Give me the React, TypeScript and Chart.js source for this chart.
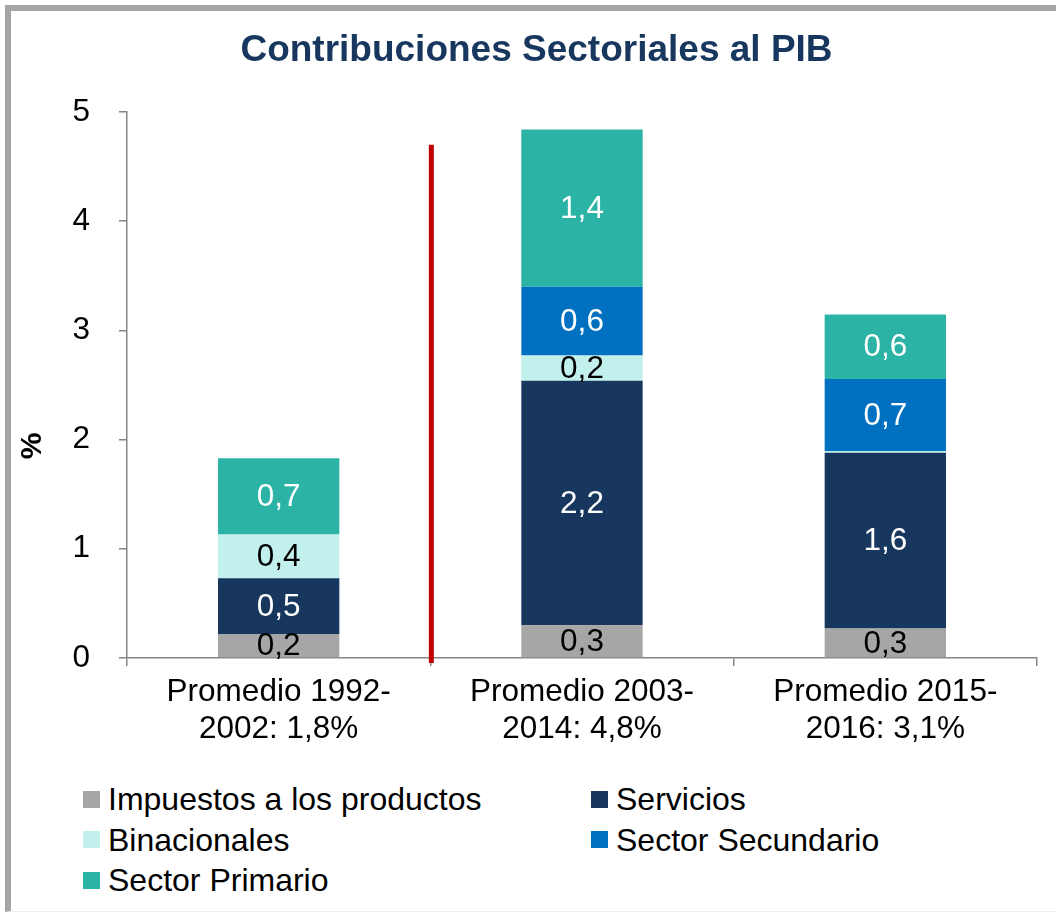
import React, { useEffect, useRef } from "react";
import { Chart, registerables } from "chart.js";

Chart.register(...registerables);

const TITLE = "Contribuciones Sectoriales al PIB";
const CATEGORIES: string[][] = [
  ["Promedio 1992-", "2002: 1,8%"],
  ["Promedio 2003-", "2014: 4,8%"],
  ["Promedio 2015-", "2016: 3,1%"],
];
const SERIES_NAMES = [
  "Impuestos a los productos",
  "Servicios",
  "Binacionales",
  "Sector Secundario",
  "Sector Primario",
];
const IMPUESTOS = [0.22, 0.3, 0.27];
const SERVICIOS = [0.51, 2.24, 1.61];
const BINACIONALES = [0.4, 0.23, 0.015];
const SECUNDARIO = [0, 0.63, 0.66];
const PRIMARIO = [0.7, 1.44, 0.59];
const SERIES_VALUES = [IMPUESTOS, SERVICIOS, BINACIONALES, SECUNDARIO, PRIMARIO];
const COLORS = ["#a6a6a6", "#17375e", "#c2f0ec", "#0070c0", "#2bb3a6"];
const LABEL_COLORS = ["#000000", "#ffffff", "#000000", "#ffffff", "#ffffff"];
const Y_TICKS = [0, 1, 2, 3, 4, 5];
const DIVIDER_TOP = 4.7;
const AXIS_TITLE = "%";

const FONT = "'Liberation Sans', Arial, sans-serif";

const fmt = (v: number) => v.toFixed(1).replace(".", ",");

const labelsPlugin = {
  id: "segLabels",
  afterDatasetsDraw(chart: any) {
    const ctx = chart.ctx;
    ctx.save();
    ctx.font = `31.5px ${FONT}`;
    ctx.textAlign = "center";
    ctx.textBaseline = "middle";
    chart.data.datasets.forEach((ds: any, di: number) => {
      const meta = chart.getDatasetMeta(di);
      meta.data.forEach((el: any, i: number) => {
        const v = ds.data[i];
        if (v < 0.1) return;
        ctx.fillStyle = LABEL_COLORS[di];
        ctx.fillText(fmt(v), el.x, (el.y + el.base) / 2 + 1);
      });
    });
    ctx.restore();
  },
};

const dividerPlugin = {
  id: "divider",
  afterDatasetsDraw(chart: any) {
    const { ctx, scales } = chart;
    const xs = scales.x;
    const ys = scales.y;
    const x = (xs.getPixelForValue(0) + xs.getPixelForValue(1)) / 2 + 1;
    ctx.save();
    ctx.strokeStyle = "#c00000";
    ctx.lineWidth = 5;
    ctx.beginPath();
    ctx.moveTo(x, ys.getPixelForValue(DIVIDER_TOP));
    ctx.lineTo(x, ys.getPixelForValue(0) + 5);
    ctx.stroke();
    ctx.restore();
  },
};

const yTitlePlugin = {
  id: "yTitle",
  afterDraw(chart: any) {
    const { ctx, chartArea } = chart;
    ctx.save();
    ctx.font = `bold 30px ${FONT}`;
    ctx.fillStyle = "#000";
    ctx.textAlign = "center";
    ctx.textBaseline = "middle";
    ctx.translate(22, (chartArea.top + chartArea.bottom) / 2 + 61);
    ctx.rotate(-Math.PI / 2);
    ctx.fillText(AXIS_TITLE, 0, 0);
    ctx.restore();
  },
};

export default function App() {
  const ref = useRef<HTMLCanvasElement | null>(null);

  useEffect(() => {
    if (!ref.current) return;
    const chart = new Chart(ref.current, {
      type: "bar",
      data: {
        labels: CATEGORIES as any,
        datasets: SERIES_NAMES.map((name, i) => ({
          label: name,
          data: SERIES_VALUES[i],
          backgroundColor: COLORS[i],
          borderWidth: 0,
          categoryPercentage: 1,
          barPercentage: 0.4,
        })),
      },
      options: {
        animation: false,
        responsive: false,
        maintainAspectRatio: false,
        layout: { padding: { left: 25, right: 19, top: 0, bottom: 0 } },
        plugins: {
          legend: { display: false },
          tooltip: { enabled: false },
          title: {
            display: true,
            text: TITLE,
            color: "#17375e",
            font: { family: FONT, size: 37, weight: "bold" },
            padding: { top: 18, bottom: 38.6 },
          },
        },
        scales: {
          x: {
            stacked: true,
            offset: true,
            grid: {
              display: true,
              drawOnChartArea: false,
              offset: true,
              tickLength: 8,
              color: "#868686",
              lineWidth: 1.5,
            },
            border: { color: "#868686", width: 1.5 },
            ticks: {
              color: "#000",
              font: { family: FONT, size: 31.5, lineHeight: 1.2 },
              padding: 7,
              maxRotation: 0,
              autoSkip: false,
            },
            afterFit(scale: any) {
              scale.height = 113;
            },
          },
          y: {
            stacked: true,
            min: 0,
            max: 5,
            afterBuildTicks(scale: any) {
              scale.ticks = Y_TICKS.map((v) => ({ value: v }));
            },
            grid: {
              display: true,
              drawOnChartArea: false,
              tickLength: 8,
              color: "#868686",
              lineWidth: 1.5,
            },
            border: { color: "#868686", width: 1.5 },
            ticks: {
              color: "#000",
              font: { family: FONT, size: 31.5 },
              padding: 29,
            },
            afterFit(scale: any) {
              scale.width = 91;
            },
          },
        },
      },
      plugins: [labelsPlugin, dividerPlugin, yTitlePlugin],
    });
    return () => chart.destroy();
  }, []);

  return (
    <div
      style={{
        position: "absolute",
        left: 0,
        top: 0,
        width: 1056,
        height: 913,
        overflow: "hidden",
        background: "#fff",
        fontFamily: FONT,
      }}
    >
      <div
        style={{
          position: "absolute",
          left: 5,
          top: 5,
          width: 1200,
          height: 900,
          borderLeft: "6px solid #a6a6a6",
          borderTop: "6px solid #a6a6a6",
          borderBottom: "1px solid #eeeeee",
        }}
      />
      <canvas
        ref={ref}
        width={1045}
        height={760}
        style={{ position: "absolute", left: 11, top: 11, width: 1045, height: 760 }}
      />
      <div
        style={{
          position: "absolute",
          left: 83,
          top: 779,
          display: "grid",
          gridTemplateColumns: "508px auto",
          gridAutoRows: "40.5px",
        }}
      >
        {SERIES_NAMES.map((name, i) => (
          <div key={name} style={{ display: "flex", alignItems: "center" }}>
            <span
              style={{
                display: "inline-block",
                width: 17,
                height: 17,
                background: COLORS[i],
                marginRight: 8,
                flex: "none",
              }}
            />
            <span style={{ fontSize: 32, lineHeight: "36px", color: "#000", whiteSpace: "nowrap" }}>
              {name}
            </span>
          </div>
        ))}
      </div>
    </div>
  );
}
